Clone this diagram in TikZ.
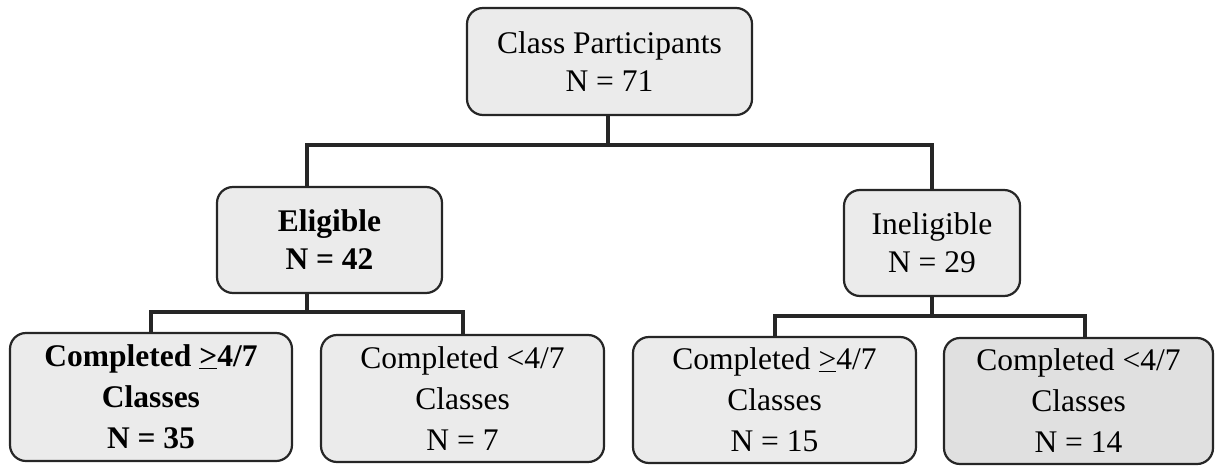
\documentclass[tikz,border=0pt]{standalone}
\usepackage{fontspec}
\setmainfont{Liberation Serif}
\begin{document}
\begin{tikzpicture}[x=1pt,y=-1pt,
  box/.style={draw=black!85, line width=2.2pt, rounded corners=16pt, fill=black!8,
    align=center, inner sep=0pt, font=\fontsize{31.5}{38}\selectfont},
  tall/.style={font=\fontsize{31.5}{41}\selectfont},
  conn/.style={draw=black!85, line width=4pt}]
\useasboundingbox (0,0) rectangle (1215,466);
\node[box, minimum width=285pt, minimum height=107pt] (top) at (609.5,61.5) {Class Participants\\N = 71};
\node[box, minimum width=225pt, minimum height=106pt] (elig) at (329.5,240) {\bfseries Eligible\\\bfseries N = 42};
\node[box, minimum width=176pt, minimum height=106pt] (inel) at (932,243) {Ineligible\\N = 29};
\node[box, tall, minimum width=282pt, minimum height=128pt] (b1) at (151,397) {\bfseries Completed \underline{>}4/7\\\bfseries Classes\\\bfseries N = 35};
\node[box, tall, minimum width=283pt, minimum height=127pt] (b2) at (462.5,398.5) {Completed <4/7\\Classes\\N = 7};
\node[box, tall, minimum width=283pt, minimum height=126pt] (b3) at (774.5,400) {Completed \underline{>}4/7\\Classes\\N = 15};
\node[box, tall, minimum width=269pt, minimum height=126pt, fill=black!12] (b4) at (1078.5,401) {Completed <4/7\\Classes\\N = 14};
\coordinate (jA) at (608,145);
\coordinate (jB) at (307,312);
\coordinate (jC) at (932,316);
\draw[conn] (top.south -| jA) -- (jA);
\draw[conn] ([xshift=-22.5pt]elig.north) |- (jA) -| (inel.north);
\draw[conn] ([xshift=-22.5pt]elig.south) -- (jB);
\draw[conn] (b1.north) |- (jB) -| (b2.north);
\draw[conn] (inel.south) -- (jC);
\draw[conn] (b3.north) |- (jC) -| ([xshift=6.5pt]b4.north);
\end{tikzpicture}
\end{document}
